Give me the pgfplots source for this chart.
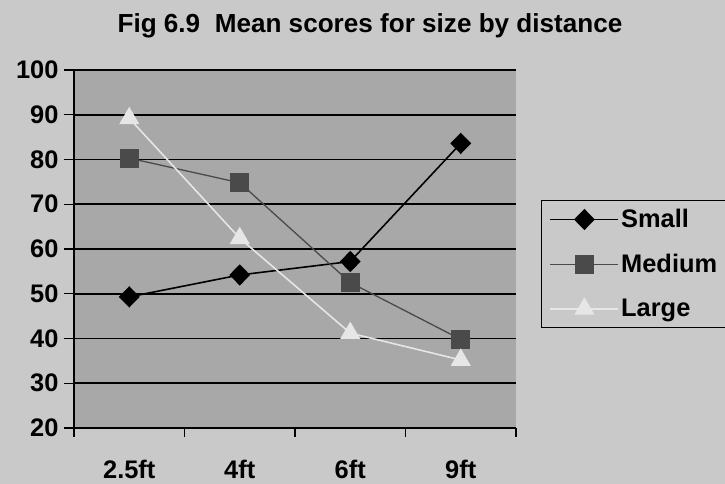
\documentclass[border=0pt]{standalone}
\usepackage{pgfplots}
\pgfplotsset{compat=1.18}
\usepackage{fontspec}
\setmainfont{Liberation Sans}
\definecolor{bgout}{HTML}{C9C9C9}
\definecolor{bgplot}{HTML}{A8A8A8}
\definecolor{medc}{HTML}{4A4A4A}
\definecolor{largec}{HTML}{E6E6E6}
\newcommand{\chartfont}{\bfseries\fontsize{25.5}{30}\selectfont}
\begin{document}
\begin{tikzpicture}[x=1bp,y=1bp]
\fill[bgout] (0,0) rectangle (725,484);
\useasboundingbox (0,0) rectangle (725,484);
\node[font=\bfseries\fontsize{26.2}{30}\selectfont] at (370,458) {Fig 6.9\ \ Mean scores for size by distance};
\begin{axis}[
  at={(74bp,56bp)}, anchor=south west,
  scale only axis, width=442bp, height=358bp,
  xmin=-0.5, xmax=3.5, ymin=20, ymax=100,
  axis background/.style={fill=bgplot},
  axis x line*=bottom, axis y line*=left,
  axis line style={line width=1.6pt, black},
  xtick={0,1,2,3},
  xticklabels={2.5ft,4ft,6ft,9ft},
  major x tick style={draw=none},
  minor xtick={-0.5,0.5,1.5,2.5,3.5},
  ytick={20,30,...,100},
  tick align=outside,
  major tick length=10bp, minor tick length=9bp,
  every tick/.style={black, line width=1.4pt},
  ymajorgrids,
  major grid style={black, line width=1.6pt},
  /pgf/number format/assume math mode=true,
  ticklabel style={font=\chartfont},
  xticklabel style={yshift=-19bp},
  yticklabel style={xshift=-2bp},
  legend style={at={(1.0566,0.637)}, anchor=north west, draw=black, line width=1.2pt,
    fill=bgout, font=\chartfont,
    row sep=21bp, inner xsep=8bp, inner ysep=7bp,
    /tikz/every even column/.append style={column sep=6bp}},
  legend cell align=left,
  legend image code/.code={\draw[mark repeat=2,mark phase=2] plot coordinates {(0bp,0bp)(34bp,0bp)(68bp,0bp)};},
]
\addplot[black, line width=1.6pt, mark=diamond*, mark size=9.5bp, mark options={xscale=1.3, fill=black, solid}] coordinates {(0,49.3) (1,54.2) (2,57.2) (3,83.6)};
\addlegendentry{Small}
\addplot[medc, line width=1.3pt, mark=square*, mark size=9bp, mark options={fill=medc, draw=medc}] coordinates {(0,80.3) (1,74.8) (2,52.5) (3,39.8)};
\addlegendentry{Medium}
\addplot[largec, line width=1.6pt, mark=triangle*, mark size=10bp, mark options={fill=largec, draw=largec}] coordinates {(0,89.2) (1,62.4) (2,41.2) (3,35.2)};
\addlegendentry{Large}
\end{axis}
\end{tikzpicture}
\end{document}
